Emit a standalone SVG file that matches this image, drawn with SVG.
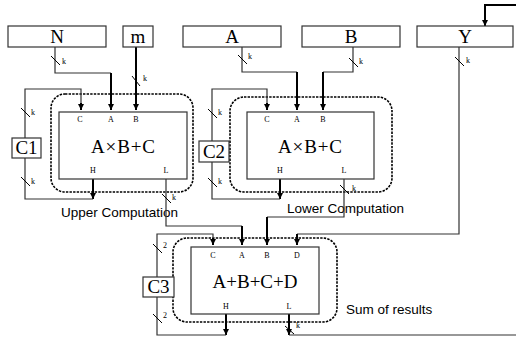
<svg xmlns="http://www.w3.org/2000/svg" width="516" height="339" viewBox="0 0 516 339">
<defs>
<marker id="ah" viewBox="0 0 6 6" refX="6" refY="3" markerWidth="6" markerHeight="6" markerUnits="userSpaceOnUse" orient="auto">
<path d="M0,0 L6,3 L0,6 z" fill="#000"/>
</marker>
<style>
.box{fill:#fff;stroke:#333;stroke-width:1.2}
.grp{fill:none;stroke:#000;stroke-width:1.6;stroke-dasharray:2.4 1.2}
.w{fill:none;stroke:#333;stroke-width:1.2}
.t{fill:none;stroke:#000;stroke-width:2}
.tk{stroke:#000;stroke-width:1}
.big{font-family:"Liberation Serif",serif;font-size:19px;text-anchor:middle;fill:#000}
.fn{font-family:"Liberation Serif",serif;font-size:19px;text-anchor:middle;fill:#000}
.pt{font-family:"Liberation Serif",serif;font-size:8px;text-anchor:middle;fill:#000}
.k{font-family:"Liberation Serif",serif;font-size:8px;fill:#000}
.lb{font-family:"Liberation Sans",Arial,sans-serif;font-size:13.5px;fill:#000}
</style>
</defs>

<g id="group-upper"><rect class="grp" x="51" y="94" width="142" height="98" rx="14"/><text class="lb" x="61" y="217">Upper Computation</text></g>
<g id="group-lower"><rect class="grp" x="230" y="97" width="162" height="95" rx="14"/><text class="lb" x="287" y="213">Lower Computation</text></g>
<g id="group-sum"><rect class="grp" x="173" y="238" width="164" height="84" rx="14"/><text class="lb" x="346" y="314">Sum of results</text></g>

<g id="connectors">
<path class="w" d="M55,47 V73 H111"/>
<path class="t" d="M111,73 V110" marker-end="url(#ah)"/>
<line class="tk" x1="51" y1="56" x2="60" y2="65"/><text class="k" x="62" y="64">k</text>
<path class="t" d="M136,47 V110" marker-end="url(#ah)"/>
<line class="tk" x1="132" y1="76" x2="140" y2="86"/><text class="k" x="143" y="81">k</text>
<path class="w" d="M242,47 V72 H297"/>
<path class="t" d="M297,72 V110" marker-end="url(#ah)"/>
<line class="tk" x1="238" y1="55" x2="247" y2="64"/><text class="k" x="248" y="59">k</text>
<path class="w" d="M353,47 V72 H323"/>
<path class="t" d="M323,72 V110" marker-end="url(#ah)"/>
<line class="tk" x1="349" y1="58" x2="358" y2="67"/><text class="k" x="359" y="64">k</text>
<path class="t" d="M516,5 H485 V26" marker-end="url(#ah)"/>
<path class="w" d="M459,47 V234 H297"/>
<path class="t" d="M297,234 V245" marker-end="url(#ah)"/>
<line class="tk" x1="455" y1="57" x2="464" y2="66"/><text class="k" x="466" y="63">k</text>
<path class="t" d="M93,179 V199" marker-end="url(#ah)"/>
<path class="w" d="M93,199 H25 V158 M25,138 V89 H81 V104"/>
<path class="t" d="M81,103 V110" marker-end="url(#ah)"/>
<line class="tk" x1="21" y1="108" x2="30" y2="117"/><text class="k" x="31" y="115">k</text>
<line class="tk" x1="21" y1="177" x2="30" y2="186"/><text class="k" x="31" y="184">k</text>
<path class="t" d="M280,179 V199" marker-end="url(#ah)"/>
<path class="w" d="M280,199 H212 V162 M212,141 V89 H267 V104"/>
<path class="t" d="M267,103 V110" marker-end="url(#ah)"/>
<line class="tk" x1="208" y1="109" x2="217" y2="118"/><text class="k" x="218" y="115">k</text>
<line class="tk" x1="208" y1="178" x2="217" y2="187"/><text class="k" x="218" y="184">k</text>
<path class="w" d="M166,179 V226 H242"/>
<path class="t" d="M242,226 V245" marker-end="url(#ah)"/>
<line class="tk" x1="162" y1="194" x2="171" y2="203"/><text class="k" x="172" y="200">k</text>
<path class="w" d="M344,179 V217 H267"/>
<path class="t" d="M267,217 V245" marker-end="url(#ah)"/>
<line class="tk" x1="340" y1="185" x2="349" y2="194"/><text class="k" x="352" y="191">k</text>
<path class="t" d="M226,314 V335" marker-end="url(#ah)"/>
<path class="w" d="M226,335 H157 V297 M157,277 V234 H213 V239"/>
<path class="t" d="M213,238 V245" marker-end="url(#ah)"/>
<line class="tk" x1="153" y1="244" x2="162" y2="253"/><text class="k" x="163" y="248">2</text>
<line class="tk" x1="153" y1="314" x2="162" y2="323"/><text class="k" x="163" y="318">2</text>
<path class="t" d="M289,314 V335" marker-end="url(#ah)"/>
<path class="w" d="M289,335 H516"/>
<line class="tk" x1="285" y1="326" x2="294" y2="334"/><text class="k" x="296" y="328">k</text>
</g>

<g id="node-N"><rect class="box" x="8" y="26" width="98" height="21"/><text class="big" x="57" y="43">N</text></g>
<g id="node-m"><rect class="box" x="123" y="26" width="30" height="21"/><text class="big" x="138" y="43">m</text></g>
<g id="node-A"><rect class="box" x="183" y="26" width="98" height="21"/><text class="big" x="232" y="43">A</text></g>
<g id="node-B"><rect class="box" x="302" y="26" width="98" height="21"/><text class="big" x="351" y="43">B</text></g>
<g id="node-Y"><rect class="box" x="417" y="26" width="96" height="21"/><text class="big" x="465" y="43">Y</text></g>

<g id="node-C1"><rect class="box" x="12" y="138" width="29" height="20"/><text class="big" x="26.5" y="154">C1</text></g>
<g id="node-C2"><rect class="box" x="199" y="141" width="30" height="21"/><text class="big" x="214" y="158">C2</text></g>
<g id="node-C3"><rect class="box" x="143" y="277" width="31" height="20"/><text class="big" x="158.5" y="293">C3</text></g>

<g id="node-mul1"><rect class="box" x="59" y="112" width="128" height="67"/>
<text class="pt" x="80" y="122">C</text><text class="pt" x="111" y="122">A</text><text class="pt" x="136" y="122">B</text>
<text class="fn" x="123" y="153" textLength="64" lengthAdjust="spacing">A×B+C</text>
<text class="pt" x="93" y="173">H</text><text class="pt" x="166" y="173">L</text></g>

<g id="node-mul2"><rect class="box" x="247" y="112" width="127" height="67"/>
<text class="pt" x="267" y="122">C</text><text class="pt" x="297" y="122">A</text><text class="pt" x="323" y="122">B</text>
<text class="fn" x="310" y="153" textLength="64" lengthAdjust="spacing">A×B+C</text>
<text class="pt" x="280" y="173">H</text><text class="pt" x="344" y="173">L</text></g>

<g id="node-sum"><rect class="box" x="191" y="247" width="128" height="67"/>
<text class="pt" x="213" y="258">C</text><text class="pt" x="242" y="258">A</text><text class="pt" x="267" y="258">B</text><text class="pt" x="297" y="258">D</text>
<text class="fn" x="255" y="288">A+B+C+D</text>
<text class="pt" x="226" y="309">H</text><text class="pt" x="289" y="309">L</text></g>
</svg>
